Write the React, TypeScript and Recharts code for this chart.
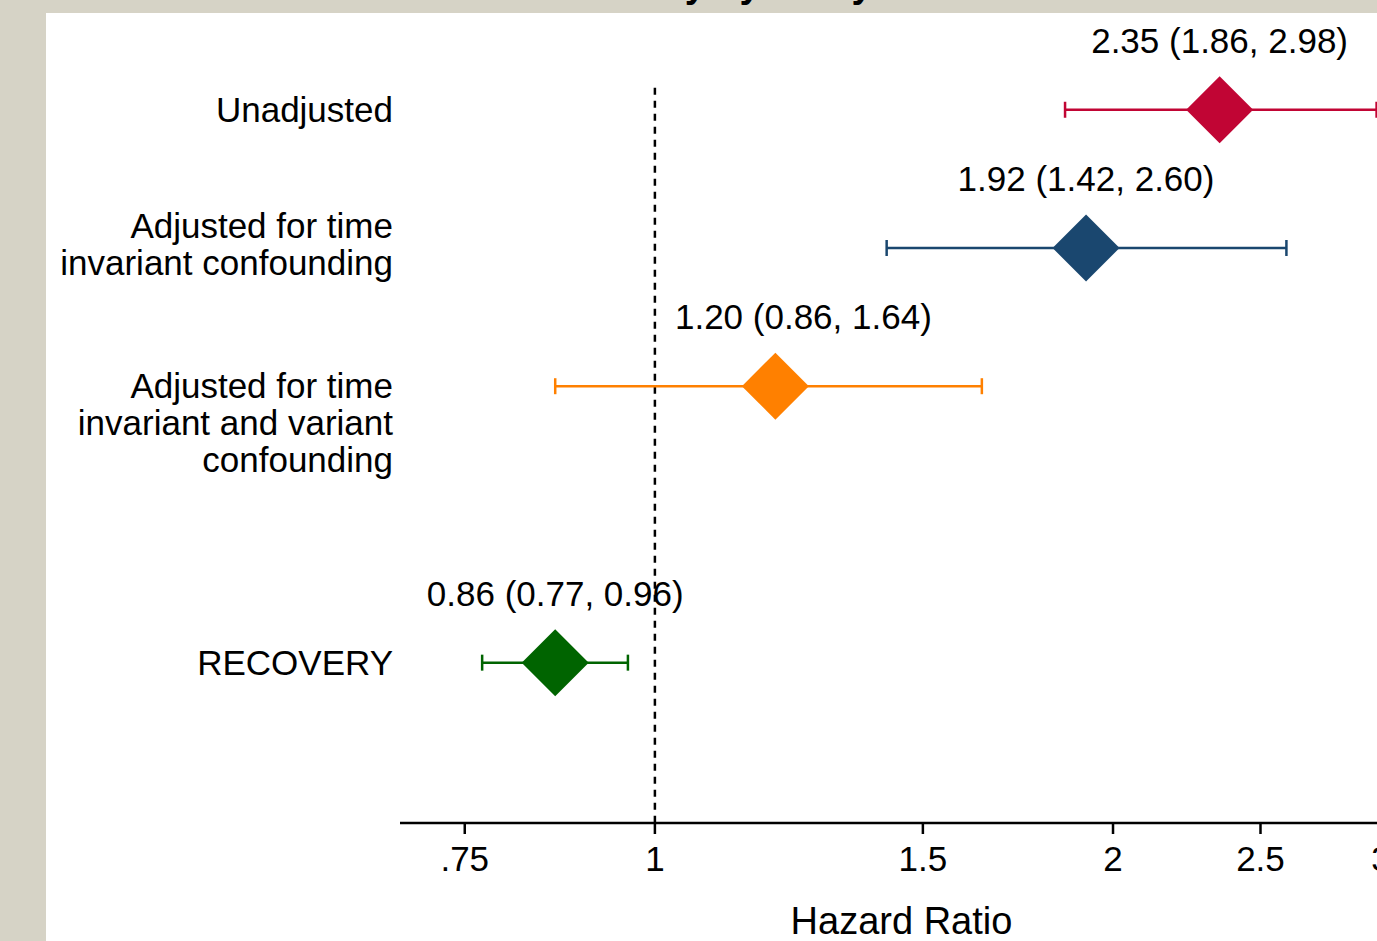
import React from "react";
import {
  ErrorBar,
  ReferenceLine,
  Scatter,
  ScatterChart,
  XAxis,
  YAxis,
} from "recharts";

// estimates and 95% CI
const models = [
  "Unadjusted",
  "Adjusted for time\ninvariant confounding",
  "Adjusted for time\ninvariant and variant\nconfounding",
  "RECOVERY",
];
const rows = [1, 2, 3, 5];
const hr = [2.35, 1.92, 1.2, 0.86];
const lower = [1.86, 1.42, 0.86, 0.77];
const upper = [2.98, 2.6, 1.64, 0.96];
const xTicks = [0.75, 1, 1.5, 2, 2.5, 3];

const colors = ["#c10534", "#1a476f", "#ff8000", "#006400"];
const labelShift = [0, 0, 28, 0];
const FONT = "'Liberation Sans', Arial, sans-serif";

const fmt = (v: number) => v.toFixed(2);

const series = hr.map((v, i) => ({
  hr: v,
  row: rows[i],
  err: [v - lower[i], upper[i] - v],
  text: `${fmt(v)} (${fmt(lower[i])}, ${fmt(upper[i])})`,
  shift: labelShift[i],
}));

const Diamond = (props: any) => {
  const { cx, cy, fill, payload } = props;
  const r = 33.5;
  return (
    <g>
      <polygon
        points={`${cx},${cy - r} ${cx + r},${cy} ${cx},${cy + r} ${cx - r},${cy}`}
        fill={fill}
      />
      <text
        x={cx + payload.shift}
        y={cy - 57}
        textAnchor="middle"
        fontSize={35}
        fontFamily={FONT}
        fill="#000"
      >
        {payload.text}
      </text>
    </g>
  );
};

const ModelTick = (props: any) => {
  const { x, y, payload } = props;
  const idx = rows.indexOf(payload.value);
  const lines = (models[idx] ?? "").split("\n");
  const start = lines.length === 3 ? 12 : -(lines.length - 1) * 22 + 12;
  return (
    <text x={x} y={y + start} textAnchor="end" fontSize={35} fontFamily={FONT} fill="#000">
      {lines.map((l, i) => (
        <tspan key={i} x={x} dy={i === 0 ? 0 : 37}>
          {l}
        </tspan>
      ))}
    </text>
  );
};

export default function App() {
  return (
    <div
      style={{
        position: "fixed",
        left: 0,
        top: 0,
        width: 1377,
        height: 941,
        overflow: "hidden",
        background: "#d6d3c6",
        fontFamily: FONT,
      }}
    >
      <div
        style={{
          position: "absolute",
          left: 0,
          width: 1420,
          top: -38,
          textAlign: "center",
          fontSize: 38,
          fontWeight: "bold",
          lineHeight: "44px",
          color: "#000",
        }}
      >
        Mortality by study
      </div>
      <div style={{ position: "absolute", left: 46, top: 13, width: 1380, height: 928, background: "#fff" }}>
        <ScatterChart width={1380} height={928} margin={{ top: 0, right: 45, bottom: 0, left: 0 }}>
          <XAxis
            type="number"
            dataKey="hr"
            scale="log"
            domain={[0.68, 3]}
            allowDataOverflow
            ticks={xTicks}
            tickFormatter={(v: number) => (v === 0.75 ? ".75" : String(v))}
            tick={{ fill: "#000", fontSize: 35, fontFamily: FONT }}
            tickSize={11}
            tickMargin={12}
            axisLine={{ stroke: "#000", strokeWidth: 2.5 }}
            tickLine={{ stroke: "#000", strokeWidth: 2.5 }}
            height={118}
            label={{
              value: "Hazard Ratio",
              position: "insideBottom",
              offset: 7,
              dx: 11,
              fontSize: 38,
              fontFamily: FONT,
              fill: "#000",
            }}
          />
          <YAxis
            type="number"
            dataKey="row"
            reversed
            domain={[0.3, 6.16]}
            allowDataOverflow
            ticks={rows}
            width={354}
            tickSize={5}
            axisLine={false}
            tickLine={false}
            tick={<ModelTick />}
          />
          <ReferenceLine
            segment={[
              { x: 1, y: 0.84 },
              { x: 1, y: 6.16 },
            ]}
            stroke="#000"
            strokeWidth={2.5}
            strokeDasharray="7 6"
          />
          {series.map((d, i) => (
            <Scatter
              key={i}
              data={[d]}
              fill={colors[i]}
              shape={<Diamond />}
              isAnimationActive={false}
            >
              <ErrorBar
                dataKey="err"
                direction="x"
                width={8}
                stroke={colors[i]}
                strokeWidth={2.5}
                isAnimationActive={false}
              />
            </Scatter>
          ))}
        </ScatterChart>
      </div>
    </div>
  );
}
